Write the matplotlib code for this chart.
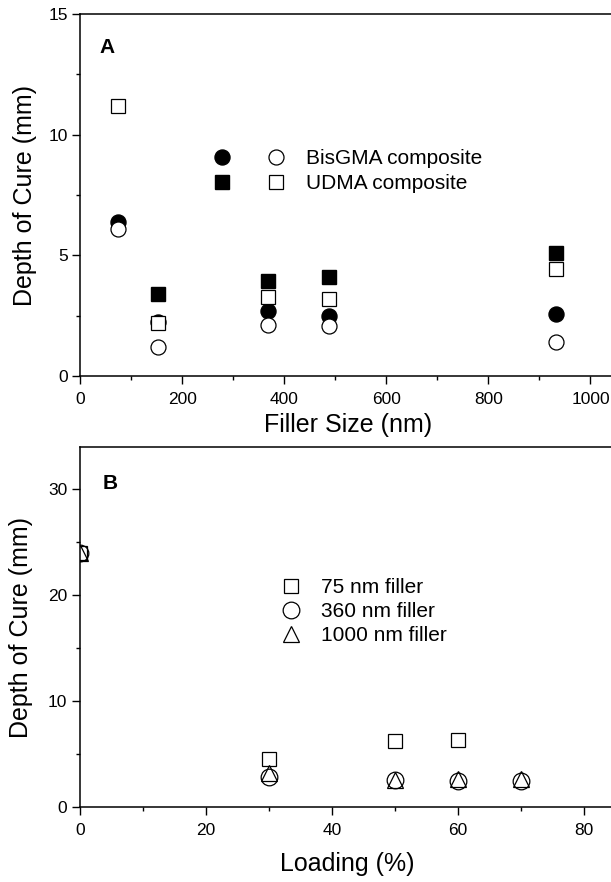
import matplotlib
matplotlib.use("Agg")
import matplotlib.pyplot as plt
from matplotlib.legend_handler import HandlerTuple
from matplotlib.ticker import MultipleLocator

plt.rcParams["font.family"] = ["Liberation Sans", "DejaVu Sans"]

# Panel A: depth of cure vs filler size
filler_size = [75, 152, 368, 488, 932]
bis_filled = [6.39, 2.25, 2.69, 2.49, 2.57]
bis_open = [6.09, 1.20, 2.10, 2.08, 1.40]
udma_size = [152, 368, 488, 932]
udma_filled = [3.40, 3.94, 4.09, 5.08]
udma_open = [11.19, 2.21, 3.29, 3.20, 4.42]

# Panel B: depth of cure vs loading
loading_75 = [0, 30, 50, 60]
cure_75 = [24.0, 4.55, 6.25, 6.3]
loading = [0, 30, 50, 60, 70]
cure_360 = [24.0, 2.85, 2.55, 2.45, 2.45]
cure_1000 = [24.0, 3.25, 2.6, 2.7, 2.7]

W, H = 611, 882
fig = plt.figure(figsize=(W / 100, H / 100), dpi=100)
axA = fig.add_axes([80 / W, 506 / H, 536 / W, 362 / H])
axB = fig.add_axes([79.7 / W, 74.7 / H, 536 / W, 360.6 / H])


def style(ax):
    for s in ax.spines.values():
        s.set_linewidth(1.1)
    ax.tick_params(which="major", direction="out", length=5.8, width=1.0, labelsize=12.5)
    ax.tick_params(which="minor", direction="out", length=3.0, width=1.0)
    ax.tick_params(axis="x", which="major", pad=5.5)
    ax.tick_params(axis="y", which="major", pad=3)


# --- panel A
kw = dict(linestyle="none", color="black", markersize=10.8)
h1, = axA.plot(filler_size, bis_filled, marker="o", **kw)
h2, = axA.plot(udma_size, udma_filled, marker="s", **dict(kw, markersize=9.9))
h3, = axA.plot(filler_size, bis_open, marker="o", markerfacecolor="white", markeredgewidth=0.9, **kw)
h4, = axA.plot(filler_size, udma_open, marker="s", markerfacecolor="white", markeredgewidth=0.9,
               **dict(kw, markersize=9.9))
axA.set_xlim(0, 1050)
axA.set_ylim(0, 15)
axA.xaxis.set_major_locator(MultipleLocator(200))
axA.xaxis.set_minor_locator(MultipleLocator(100))
axA.yaxis.set_major_locator(MultipleLocator(5))
axA.yaxis.set_minor_locator(MultipleLocator(2.5))
style(axA)
axA.set_xlabel("Filler Size (nm)", fontsize=18)
axA.set_ylabel("Depth of Cure (mm)", fontsize=18)
axA.xaxis.set_label_coords(0.5, -0.103)
axA.yaxis.set_label_coords(-0.08, 0.5)
axA.text(0.036, 0.935, "A", transform=axA.transAxes, fontsize=15, fontweight="bold", va="top")
axA.legend([(h1, h3), (h2, h4)], ["BisGMA composite", "UDMA composite"],
           handler_map={tuple: HandlerTuple(ndivide=None, pad=0)},
           loc="upper left", bbox_to_anchor=(0.214, 0.626), frameon=False, fontsize=15,
           handlelength=5.18, handletextpad=0.16, labelspacing=0.27, borderpad=0, borderaxespad=0)

# --- panel B
kwB = dict(linestyle="none", color="black", markerfacecolor="none", markeredgewidth=0.9)
axB.plot(loading_75, cure_75, marker="s", markersize=9.6, label="75 nm filler", **kwB)
axB.plot(loading, cure_360, marker="o", markersize=12, label="360 nm filler", **kwB)
axB.plot(loading, cure_1000, marker="^", markersize=12, label="1000 nm filler", **kwB)
axB.set_xlim(0, 85)
axB.set_ylim(0, 34)
axB.xaxis.set_major_locator(MultipleLocator(20))
axB.xaxis.set_minor_locator(MultipleLocator(10))
axB.yaxis.set_major_locator(MultipleLocator(10))
axB.yaxis.set_minor_locator(MultipleLocator(5))
style(axB)
axB.set_xlabel("Loading (%)", fontsize=18)
axB.set_ylabel("Depth of Cure (mm)", fontsize=18)
axB.xaxis.set_label_coords(0.5, -0.124)
axB.yaxis.set_label_coords(-0.088, 0.5)
axB.text(0.042, 0.925, "B", transform=axB.transAxes, fontsize=15, fontweight="bold", va="top")
axB.legend(loc="upper left", bbox_to_anchor=(0.374, 0.636), frameon=False, fontsize=15,
           handlelength=1.0, handletextpad=0.94, labelspacing=0.25, borderpad=0, borderaxespad=0)

fig.savefig("out.png", dpi=100)
